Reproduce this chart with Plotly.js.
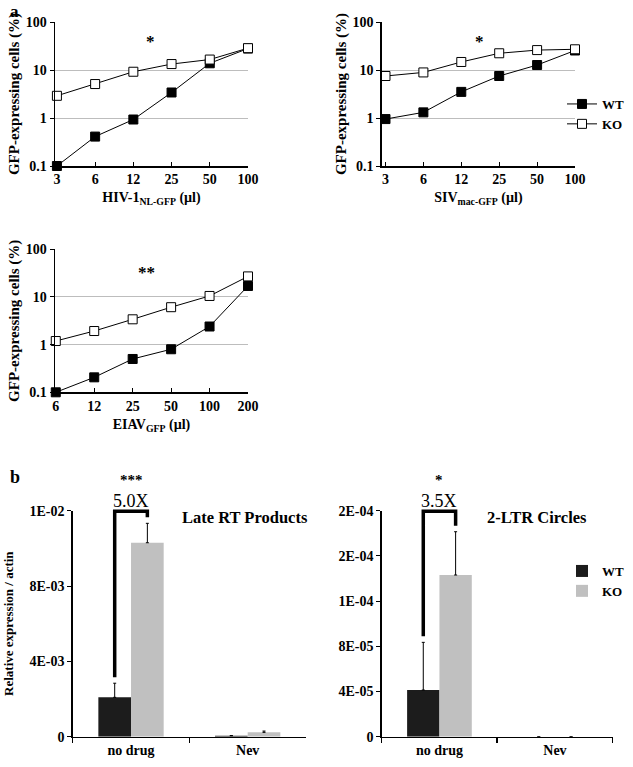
<!DOCTYPE html>
<html>
<head>
<meta charset="utf-8">
<script src="https://cdn.plot.ly/plotly-3.0.1.min.js"></script>
<style>html,body{margin:0;padding:0;background:#fff;}#chart{width:633px;height:767px;}</style>
</head>
<body>
<div id="chart"></div>
<script>
// ---------- data ----------
const hivDoses = ["3", "6", "12", "25", "50", "100"];
const hivWT = [0.1, 0.41, 0.93, 3.4, 13.8, 28];
const hivKO = [2.9, 5.1, 9.2, 13.3, 16.5, 28.5];

const sivDoses = ["3", "6", "12", "25", "50", "100"];
const sivWT = [0.95, 1.31, 3.5, 7.5, 12.7, 25.5];
const sivKO = [7.5, 8.9, 14.7, 22.3, 26, 27];

const eiavDoses = ["6", "12", "25", "50", "100", "200"];
const eiavWT = [0.1, 0.206, 0.5, 0.8, 2.4, 17];
const eiavKO = [1.19, 1.93, 3.4, 6.1, 10.5, 27];

const logTickVals = [0.1, 1, 10, 100];
const logTickText = ["0.1", "1", "10", "100"];

const treatments = ["no drug", "Nev"];
const lateWT = [0.00209, 0.00005];
const lateWTerr = [0.00075, 0.00001];
const lateKO = [0.0103, 0.00023];
const lateKOerr = [0.00103, 0.00007];
const lateTickVals = [0, 0.004, 0.008, 0.012];
const lateTickText = ["0", "4E-03", "8E-03", "1E-02"];

const ltrWT = [4.13e-5, 0];
const ltrWTerr = [4.22e-5, 0];
const ltrKO = [1.431e-4, 0];
const ltrKOerr = [3.83e-5, 0];
const ltrTickVals = [0, 4e-5, 8e-5, 1.2e-4, 1.6e-4, 2e-4];
const ltrTickText = ["0", "4E-05", "8E-05", "1E-04", "2E-04", "2E-04"];

// ---------- layout helpers ----------
const W = 633, H = 767;
const px = x => x / W;
const py = y => 1 - y / H;
const FONT = "Liberation Serif, Times New Roman, serif";
const TICKF = {family: FONT, size: 14, color: "#000", weight: "bold"};
const YTITLEF = {family: FONT, size: 15, color: "#000", weight: "bold"};
const XTITLEF = {family: FONT, size: 14, color: "#000", weight: "bold"};
const BTITLEF = {family: FONT, size: 13, color: "#000", weight: "bold"};

const dom = {
  a1: {x: [55, 248], y: [22, 166]},
  a2: {x: [381.7, 575], y: [22, 166]},
  a3: {x: [55, 248], y: [249.3, 392.3]},
  b1: {x: [72.7, 306], y: [510.7, 736.7]},
  b2: {x: [381.7, 612.7], y: [510.7, 736.7]}
};
const xd = d => [px(d.x[0]), px(d.x[1])];
const yd = d => [py(d.y[1]), py(d.y[0])];

const lineTrace = (xl, yv, ax, filled, name, show) => ({
  type: "scatter", mode: "lines+markers",
  x: xl.map((_, i) => i), y: yv, xaxis: "x" + ax, yaxis: "y" + ax,
  name: name, showlegend: show, legend: "legend",
  line: {color: "#000", width: 1},
  marker: {symbol: "square", size: 9, color: filled ? "#000" : "#fff", line: {color: "#000", width: 1}},
  cliponaxis: false, hoverinfo: "skip"
});

const BARGAP = 0.44;
const barTrace = (yv, err, ax, color, name, show) => ({
  type: "bar", x: treatments, y: yv, xaxis: "x" + ax, yaxis: "y" + ax,
  name: name, showlegend: show, legend: "legend2",
  marker: {color: color, line: {width: 0}},
  error_y: {type: "data", symmetric: false, array: err, arrayminus: err.map(() => 0),
            color: "#000", thickness: 1, width: 1.5},
  hoverinfo: "skip"
});

const data = [
  lineTrace(hivDoses, hivWT, "", true, "WT", true),
  lineTrace(hivDoses, hivKO, "", false, "KO", true),
  lineTrace(sivDoses, sivWT, "2", true, "WT", false),
  lineTrace(sivDoses, sivKO, "2", false, "KO", false),
  lineTrace(eiavDoses, eiavWT, "3", true, "WT", false),
  lineTrace(eiavDoses, eiavKO, "3", false, "KO", false),
  barTrace(lateWT, lateWTerr, "4", "#1c1c1c", "WT", true),
  barTrace(lateKO, lateKOerr, "4", "#c0c0c0", "KO", true),
  barTrace(ltrWT, ltrWTerr, "5", "#1c1c1c", "WT", false),
  barTrace(ltrKO, ltrKOerr, "5", "#c0c0c0", "KO", false)
];

const logY = (d, anchor, titleText) => ({
  domain: yd(d), anchor: anchor, type: "log", range: [-1, 2],
  tickvals: logTickVals, ticktext: logTickText,
  showgrid: true, gridcolor: "#bdbdbd", gridwidth: 1,
  showline: true, linecolor: "#000", linewidth: 1.5,
  ticks: "outside", ticklen: 4, tickcolor: "#000", tickwidth: 1,
  tickfont: TICKF, fixedrange: true, automargin: false,
  title: {text: titleText, font: YTITLEF, standoff: 2}
});
const catX = (d, anchor, labels, r0, titleText) => ({
  domain: xd(d), anchor: anchor, type: "linear", range: [r0, 5],
  tickvals: labels.map((_, i) => i), ticktext: labels,
  showgrid: false, zeroline: false,
  showline: true, linecolor: "#000", linewidth: 1.5,
  ticks: "inside", ticklen: 4, tickcolor: "#000", tickwidth: 1,
  tickfont: TICKF, fixedrange: true, automargin: false,
  title: {text: titleText, font: XTITLEF, standoff: 6}
});
const barY = (d, anchor, tv, tt, max, titleText) => ({
  domain: yd(d), anchor: anchor, type: "linear", range: [0, max],
  tickvals: tv, ticktext: tt, showgrid: false, zeroline: false,
  showline: true, linecolor: "#000", linewidth: 1.5,
  ticks: "outside", ticklen: 4, tickcolor: "#000", tickwidth: 1,
  tickfont: TICKF, fixedrange: true, automargin: false,
  title: {text: titleText, font: BTITLEF, standoff: 13}
});
const barX = (d, anchor) => ({
  domain: xd(d), anchor: anchor, type: "category",
  tickson: "boundaries", ticks: "outside", ticklen: 5, tickcolor: "#000", tickwidth: 1.5,
  showline: true, linecolor: "#000", linewidth: 1.5, showgrid: false,
  tickfont: TICKF, fixedrange: true, automargin: false
});

// bracket helpers (paper coords computed from bar geometry)
function barCenterPx(d, catIndex, side) {
  const n = treatments.length;
  const w = (d.x[1] - d.x[0]) / n;
  const off = side * (1 - BARGAP) / 4;
  return d.x[0] + (catIndex + 0.5 + off) * w;
}
function valPx(d, v, max) {
  return d.y[1] - v / max * (d.y[1] - d.y[0]);
}
const shapes = [];
const annotations = [];
const ann = (x, y, t, font, ya) => ({
  xref: "paper", yref: "paper", x: px(x), y: py(y), text: t, showarrow: false,
  xanchor: "center", yanchor: ya || "middle", font: font
});
function bracket(d, wtTop, koTop, max, fold, stars) {
  const xl = barCenterPx(d, 0, -1), xr = barCenterPx(d, 0, 1);
  const top = d.y[0] + 0.5;
  const yl = valPx(d, wtTop, max) - 6;
  const yr = valPx(d, koTop, max) - 6;
  const pathStr = `M${px(xl)},${py(yl)} L${px(xl)},${py(top)} L${px(xr)},${py(top)} L${px(xr)},${py(yr)}`;
  shapes.push({type: "path", xref: "paper", yref: "paper", path: pathStr,
               line: {color: "#000", width: 3.5}});
  const xm = (xl + xr) / 2;
  annotations.push(ann(xm, 501, fold, {family: FONT, size: 18, color: "#000000"}));
  annotations.push(ann(xm, 490, stars, {family: FONT, size: 15, color: "#000000", weight: "bold"}, "bottom"));
}
bracket(dom.b1, lateWT[0] + lateWTerr[0], lateKO[0] + lateKOerr[0], 0.012, "5.0X", "***");
bracket(dom.b2, ltrWT[0] + ltrWTerr[0], ltrKO[0] + ltrKOerr[0], 2e-4, "3.5X", "*");

const bf = size => ({family: FONT, size: size, color: "#000000", weight: "bold"});
annotations.push(ann(15, 0, "a", bf(17), "top"));
annotations.push(ann(15, 477, "b", bf(18)));
annotations.push(ann(150, 41, "*", bf(17)));
annotations.push(ann(480, 41, "*", bf(17)));
annotations.push(ann(146, 272, "**", bf(17)));
annotations.push(ann(245, 517, "Late RT Products", bf(16.5)));
annotations.push(ann(537, 517, "2-LTR Circles", bf(16.5)));

const LEGF = {family: FONT, size: 13, color: "#000", weight: "bold"};
const layout = {
  width: W, height: H, margin: {l: 0, r: 0, t: 0, b: 0, autoexpand: false},
  paper_bgcolor: "#fff", plot_bgcolor: "rgba(0,0,0,0)",
  font: {family: FONT, color: "#000"},
  barmode: "group", bargap: BARGAP, bargroupgap: 0,
  xaxis: catX(dom.a1, "y", hivDoses, -0.05, "HIV-1<sub>NL-GFP</sub> (µl)"),
  yaxis: logY(dom.a1, "x", "GFP-expressing cells (%)"),
  xaxis2: catX(dom.a2, "y2", sivDoses, -0.1, "SIV<sub>mac-GFP</sub> (µl)"),
  yaxis2: logY(dom.a2, "x2", "GFP-expressing cells (%)"),
  xaxis3: catX(dom.a3, "y3", eiavDoses, -0.02, "EIAV<sub>GFP</sub> (µl)"),
  yaxis3: logY(dom.a3, "x3", "GFP-expressing cells (%)"),
  xaxis4: barX(dom.b1, "y4"),
  yaxis4: barY(dom.b1, "x4", lateTickVals, lateTickText, 0.012, "Relative expression / actin"),
  xaxis5: barX(dom.b2, "y5"),
  yaxis5: barY(dom.b2, "x5", ltrTickVals, ltrTickText, 2e-4, ""),
  legend: {x: px(562), y: py(89), xanchor: "left", yanchor: "top", bgcolor: "rgba(0,0,0,0)",
           font: LEGF, itemwidth: 30, tracegroupgap: 0,
           itemclick: false, itemdoubleclick: false},
  legend2: {x: px(562), y: py(556), xanchor: "left", yanchor: "top", bgcolor: "rgba(0,0,0,0)",
            font: LEGF, itemwidth: 30, tracegroupgap: 0,
            itemclick: false, itemdoubleclick: false},
  shapes: shapes, annotations: annotations,
  showlegend: true
};

Plotly.newPlot("chart", data, layout, {displayModeBar: false, staticPlot: true});
</script>
</body>
</html>
